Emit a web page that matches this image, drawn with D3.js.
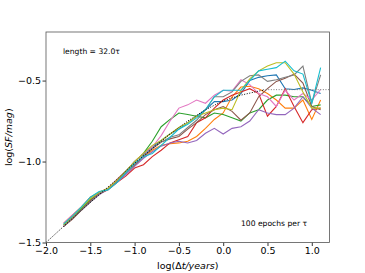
<!DOCTYPE html>
<html>
<head>
<meta charset="utf-8">
<script src="https://cdn.jsdelivr.net/npm/d3@7"></script>
<style>
	body { margin: 0; background: #fff; }
	text { font-family: "DejaVu Sans", sans-serif; }
</style>
</head>
<body>
<div id="visualisation"></div>
<script>

//Données

var dtLog = [-1.8,-1.7,-1.6,-1.5,-1.4,-1.3,-1.2,-1.1,-1.0,-0.9,-0.8,-0.7,-0.6,-0.5,-0.4,-0.3,-0.2,-0.1,0.0,0.1,0.2,0.3,0.4,0.5,0.6,0.7,0.8,0.9,1.0,1.1];

var sfBlue   = [-1.39,-1.34,-1.29,-1.24,-1.20,-1.165,-1.12,-1.06,-1.00,-0.955,-0.91,-0.87,-0.83,-0.80,-0.76,-0.72,-0.68,-0.63,-0.63,-0.62,-0.58,-0.50,-0.48,-0.47,-0.465,-0.55,-0.555,-0.545,-0.56,-0.58];
var sfOrange = [-1.38,-1.33,-1.28,-1.22,-1.19,-1.17,-1.12,-1.07,-1.02,-0.97,-0.93,-0.90,-0.89,-0.885,-0.875,-0.845,-0.795,-0.74,-0.70,-0.60,-0.54,-0.535,-0.55,-0.58,-0.62,-0.67,-0.67,-0.62,-0.74,-0.62];
var sfGreen  = [-1.39,-1.34,-1.29,-1.235,-1.195,-1.17,-1.12,-1.06,-1.00,-0.95,-0.875,-0.785,-0.74,-0.70,-0.71,-0.72,-0.73,-0.70,-0.71,-0.73,-0.75,-0.70,-0.68,-0.62,-0.59,-0.59,-0.60,-0.60,-0.66,-0.65];
var sfRed    = [-1.40,-1.35,-1.30,-1.245,-1.20,-1.175,-1.13,-1.09,-1.04,-1.02,-0.97,-0.93,-0.885,-0.865,-0.845,-0.76,-0.73,-0.67,-0.62,-0.59,-0.57,-0.55,-0.58,-0.72,-0.66,-0.55,-0.66,-0.76,-0.68,-0.67];
var sfPurple = [-1.40,-1.35,-1.30,-1.25,-1.205,-1.17,-1.13,-1.08,-1.03,-0.98,-0.94,-0.905,-0.885,-0.875,-0.885,-0.87,-0.825,-0.795,-0.83,-0.795,-0.785,-0.75,-0.68,-0.70,-0.71,-0.71,-0.67,-0.60,-0.67,-0.71];
var sfBrown  = [-1.40,-1.355,-1.30,-1.245,-1.20,-1.17,-1.125,-1.07,-1.02,-0.97,-0.92,-0.88,-0.86,-0.845,-0.80,-0.76,-0.71,-0.68,-0.66,-0.69,-0.745,-0.70,-0.60,-0.55,-0.505,-0.485,-0.46,-0.515,-0.66,-0.68];
var sfPink   = [-1.38,-1.33,-1.28,-1.225,-1.19,-1.165,-1.11,-1.06,-1.00,-0.95,-0.91,-0.84,-0.75,-0.67,-0.65,-0.62,-0.64,-0.59,-0.56,-0.565,-0.495,-0.525,-0.58,-0.60,-0.66,-0.56,-0.62,-0.58,-0.62,-0.555];
var sfGray   = [-1.40,-1.35,-1.30,-1.25,-1.20,-1.17,-1.12,-1.07,-1.02,-0.965,-0.92,-0.88,-0.85,-0.835,-0.79,-0.745,-0.68,-0.60,-0.60,-0.57,-0.505,-0.47,-0.465,-0.505,-0.495,-0.48,-0.465,-0.41,-0.64,-0.465];
var sfOlive  = [-1.39,-1.34,-1.285,-1.23,-1.19,-1.165,-1.115,-1.06,-1.00,-0.95,-0.90,-0.87,-0.83,-0.79,-0.76,-0.72,-0.70,-0.68,-0.67,-0.68,-0.56,-0.49,-0.44,-0.41,-0.39,-0.39,-0.46,-0.57,-0.67,-0.67];
var sfCyan   = [-1.385,-1.335,-1.28,-1.22,-1.185,-1.175,-1.13,-1.07,-1.01,-0.97,-0.95,-0.90,-0.85,-0.80,-0.77,-0.73,-0.68,-0.60,-0.56,-0.56,-0.56,-0.50,-0.44,-0.43,-0.42,-0.38,-0.44,-0.46,-0.64,-0.42];

var series = [sfBlue, sfOrange, sfGreen, sfRed, sfPurple, sfBrown, sfPink, sfGray, sfOlive, sfCyan];
var couleurs = ["#1f77b4","#ff7f0e","#2ca02c","#d62728","#9467bd","#8c564b","#e377c2","#7f7f7f","#bcbd22","#17becf"];

//Modèle (pointillés noirs) et asymptote (pointillés gris)
var modelX = [-2.0,-1.8,-1.6,-1.4,-1.2,-1.0,-0.8,-0.6,-0.4,-0.2,0.0,0.2,0.4,0.45];
var modelY = [-1.50,-1.40,-1.30,-1.205,-1.11,-1.01,-0.92,-0.83,-0.75,-0.68,-0.625,-0.59,-0.565,-0.56];
var asymX = [0.45, 1.2];
var asymY = [-0.556, -0.556];

var xTicks = [-2.0,-1.5,-1.0,-0.5,0.0,0.5,1.0];
var yTicks = [-1.5,-1.0,-0.5];


//Création du svg

var svg = d3.select("#visualisation")
		    .append("svg")
		    .attr("width", 365)
		    .attr("height", 273);

var pos = {"left" : 46, "right" : 329.5, "top" : 32, "bottom" : 242.5};

var x = d3.scaleLinear().domain([-2.0, 1.2]).range([pos.left, pos.right]);
var y = d3.scaleLinear().domain([-1.5, -0.2]).range([pos.bottom, pos.top]);

var fmt = function(d){ return d3.format(".1f")(d).replace("-", "\u2212"); };


//Courbes

var line = d3.line()
			 .x(function(d){return x(d[0]);})
			 .y(function(d){return y(d[1]);});

var clip = svg.append("clipPath").attr("id", "clip")
			  .append("rect")
			  .attr("x", pos.left).attr("y", pos.top)
			  .attr("width", pos.right - pos.left).attr("height", pos.bottom - pos.top);

var courbes = svg.append("g").attr("clip-path", "url(#clip)");

courbes.selectAll(".sf")
	   .data(series)
	   .enter()
		   .append("path")
		   .attr("class", "sf")
		   .attr("d", function(s){ return line(s.map(function(v, i){return [dtLog[i], v];})); })
		   .attr("fill", "none")
		   .attr("stroke", function(s, i){return couleurs[i];})
		   .attr("stroke-width", 1.1);

courbes.append("path")
	   .attr("d", line(modelX.map(function(v, i){return [v, modelY[i]];})))
	   .attr("fill", "none")
	   .attr("stroke", "#000")
	   .attr("stroke-width", 1)
	   .attr("stroke-dasharray", "1,1.6");

courbes.append("path")
	   .attr("d", line(asymX.map(function(v, i){return [v, asymY[i]];})))
	   .attr("fill", "none")
	   .attr("stroke", "#777")
	   .attr("stroke-width", 1)
	   .attr("stroke-dasharray", "1,1.6");


//Axes

var xAxis = svg.append("g")
			   .attr("transform", "translate(0," + pos.bottom + ")")
			   .call(d3.axisBottom(x).tickValues(xTicks).tickFormat(fmt).tickSize(3.5).tickSizeOuter(0));

var yAxis = svg.append("g")
			   .attr("transform", "translate(" + pos.left + ",0)")
			   .call(d3.axisLeft(y).tickValues(yTicks).tickFormat(fmt).tickSize(3.5).tickSizeOuter(0));

svg.selectAll(".domain").remove();
svg.selectAll(".tick line").attr("stroke", "#000").attr("stroke-width", 0.8);
svg.selectAll(".tick text").attr("font-size", 9.5).attr("fill", "#000")
   .attr("font-family", "DejaVu Sans");
xAxis.selectAll(".tick text").attr("dy", "0.75em").attr("y", 4.5);
yAxis.selectAll(".tick text").attr("x", -5);

svg.append("rect")
   .attr("x", pos.left).attr("y", pos.top)
   .attr("width", pos.right - pos.left).attr("height", pos.bottom - pos.top)
   .attr("fill", "none")
   .attr("stroke", "#555")
   .attr("stroke-width", 0.8);


//Titres des axes

var xLabel = svg.append("text")
				.attr("x", (pos.left + pos.right) / 2)
				.attr("y", 269)
				.attr("text-anchor", "middle")
				.attr("font-size", 9.5);
xLabel.append("tspan").text("log(\u0394");
xLabel.append("tspan").attr("font-style", "italic").text("t/years");
xLabel.append("tspan").text(")");

var yLabel = svg.append("text")
				.attr("transform", "translate(12," + ((pos.top + pos.bottom) / 2) + ") rotate(-90)")
				.attr("text-anchor", "middle")
				.attr("font-size", 9.5);
yLabel.append("tspan").text("log(");
yLabel.append("tspan").attr("font-style", "italic").text("SF/mag");
yLabel.append("tspan").text(")");


//Annotations

svg.append("text")
   .attr("x", 63).attr("y", 53.5)
   .attr("font-size", 7.6)
   .text("length = 32.0\u03c4");

svg.append("text")
   .attr("x", 241).attr("y", 225.5)
   .attr("font-size", 7.6)
   .text("100 epochs per \u03c4");

</script>
</body>
</html>
